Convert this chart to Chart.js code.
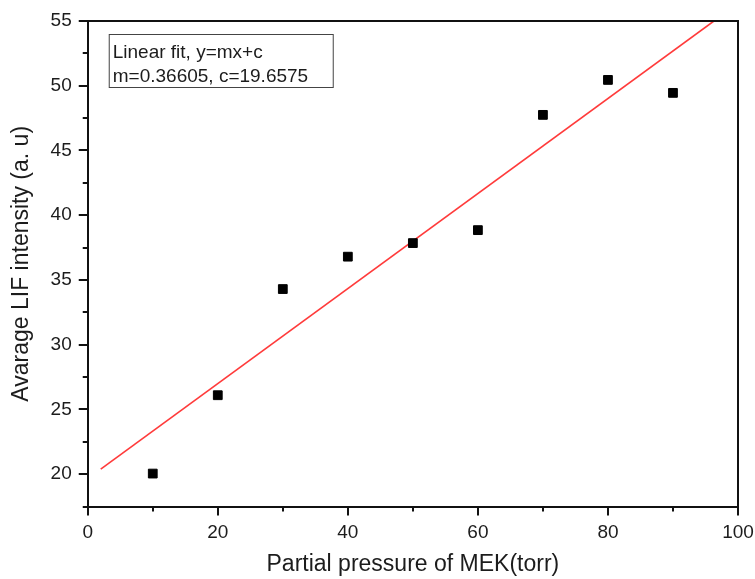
<!DOCTYPE html>
<html>
<head>
<meta charset="utf-8">
<script src="https://cdn.jsdelivr.net/npm/chart.js@4.4.1/dist/chart.umd.min.js"></script>
<style>
  html, body { margin: 0; padding: 0; background: #fff; }
  #wrap { width: 755px; height: 579px; position: relative; }
</style>
</head>
<body>
<div id="wrap"><canvas id="c" width="755" height="579"></canvas></div>
<script>
// Data
const pressure = [10, 20, 30, 40, 50, 60, 70, 80, 90];
const intensity = [20.05, 26.1, 34.3, 36.8, 37.85, 38.85, 47.75, 50.45, 49.45];
// Linear fit line end points (as drawn in the picture)
const fitX = [2, 96.3];
const fitY = [20.4, 55];
const fitText = ['Linear fit, y=mx+c', 'm=0.36605, c=19.6575'];
const xTitle = 'Partial pressure of MEK(torr)';
const yTitle = 'Avarage LIF intensity (a. u)';

const FONT = "'Liberation Sans', Arial, sans-serif";
const TEXT = '#1c1c1c';

const frameAndMinor = {
  id: 'frameAndMinor',
  afterDraw(chart) {
    const { ctx, chartArea: a, scales } = chart;
    ctx.save();
    ctx.strokeStyle = '#111';
    ctx.lineWidth = 2;
    ctx.beginPath();
    ctx.moveTo(a.left, a.top);
    ctx.lineTo(a.right, a.top);
    ctx.lineTo(a.right, a.bottom);
    ctx.stroke();
    scales.x.ticks.forEach(t => {
      if (t.value % 20 !== 0) {
        const px = Math.round(scales.x.getPixelForValue(t.value));
        ctx.beginPath();
        ctx.moveTo(px, a.bottom);
        ctx.lineTo(px, a.bottom + 5);
        ctx.stroke();
      }
    });
    scales.y.ticks.forEach(t => {
      if (Math.abs(t.value % 5) > 1e-6) {
        const py = Math.round(scales.y.getPixelForValue(t.value));
        ctx.beginPath();
        ctx.moveTo(a.left, py);
        ctx.lineTo(a.left - 5, py);
        ctx.stroke();
      }
    });
    const bx = a.left + 21, by = a.top + 13, bw = 224, bh = 53;
    ctx.lineWidth = 1;
    ctx.strokeStyle = '#444';
    ctx.strokeRect(bx + 0.5, by + 0.5, bw, bh);
    ctx.fillStyle = TEXT;
    ctx.font = '19px ' + FONT;
    ctx.textBaseline = 'alphabetic';
    ctx.textAlign = 'left';
    ctx.fillText(fitText[0], bx + 4, by + 24);
    ctx.fillText(fitText[1], bx + 4, by + 48);
    ctx.restore();
  }
};

new Chart(document.getElementById('c'), {
  type: 'scatter',
  data: {
    datasets: [
      {
        label: 'fit',
        data: fitX.map((x, i) => ({ x, y: fitY[i] })),
        showLine: true,
        borderColor: '#ff3b3b',
        borderWidth: 1.6,
        pointRadius: 0,
        fill: false,
        order: 2
      },
      {
        label: 'data',
        data: pressure.map((x, i) => ({ x, y: intensity[i] })),
        pointStyle: 'rect',
        pointRadius: 6.2,
        backgroundColor: '#000',
        borderColor: '#000',
        borderWidth: 1,
        order: 1
      }
    ]
  },
  options: {
    responsive: false,
    animation: false,
    devicePixelRatio: 1,
    layout: { padding: { left: 8, right: 17, top: 21, bottom: 1 } },
    plugins: { legend: { display: false }, tooltip: { enabled: false } },
    scales: {
      x: {
        type: 'linear', min: 0, max: 100,
        afterFit: s => { s.paddingRight = 0; },
        ticks: {
          stepSize: 10, color: TEXT, font: { family: FONT, size: 19 }, padding: 6,
          maxRotation: 0, autoSkip: false,
          callback: v => (v % 20 === 0 ? String(v) : '')
        },
        grid: {
          drawOnChartArea: false, drawTicks: true, tickLength: 9, lineWidth: 2,
          tickColor: ctx => (ctx.tick && ctx.tick.value % 20 === 0 ? '#111' : 'rgba(0,0,0,0)')
        },
        border: { display: true, color: '#111', width: 2 },
        title: { display: true, text: xTitle, color: TEXT, font: { family: FONT, size: 23 }, padding: { top: 0, bottom: 0 } }
      },
      y: {
        type: 'linear', min: 17.5, max: 55,
        ticks: {
          stepSize: 2.5, color: TEXT, font: { family: FONT, size: 19 }, padding: 7,
          autoSkip: false,
          callback: v => (Math.abs(v % 5) < 1e-6 ? String(v) : '')
        },
        grid: {
          drawOnChartArea: false, drawTicks: true, tickLength: 9, lineWidth: 2,
          tickColor: ctx => (ctx.tick && Math.abs(ctx.tick.value % 5) < 1e-6 ? '#111' : 'rgba(0,0,0,0)')
        },
        border: { display: true, color: '#111', width: 2 },
        title: { display: true, text: yTitle, color: TEXT, font: { family: FONT, size: 23 }, padding: { top: 0, bottom: 8 } }
      }
    }
  },
  plugins: [frameAndMinor]
});
</script>
</body>
</html>
